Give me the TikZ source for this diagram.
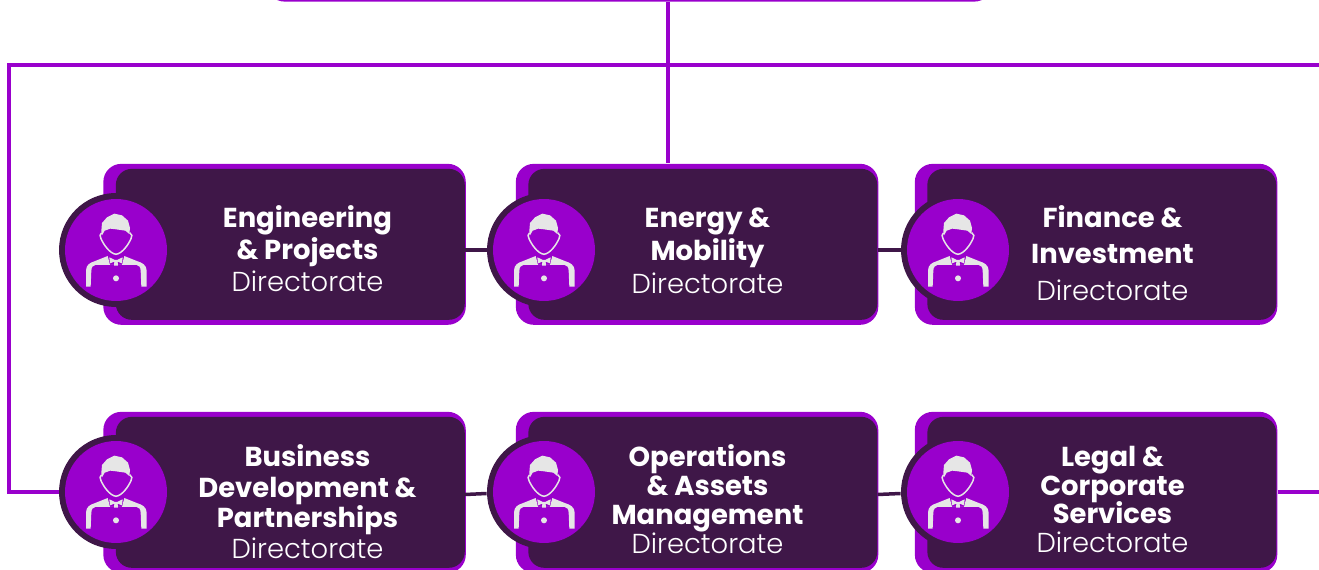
\documentclass[tikz,border=0pt]{standalone}
\usepackage{fontspec}
\setmainfont{Poppins}
\newfontfamily\titlefont{Poppins Bold}
\newfontfamily\unitfont{Poppins Light}
\usetikzlibrary{positioning}
\definecolor{dirpurple}{RGB}{153, 0, 204}
\definecolor{dirdark}{RGB}{63, 23, 72}
\definecolor{dirgrey}{RGB}{230, 230, 230}
\tikzset{
  cardback/.style={fill=dirpurple, rounded corners=0.36cm, minimum width=7.25cm, minimum height=3.22cm, inner sep=0pt},
  cardface/.style={fill=dirdark, rounded corners=0.32cm, minimum width=6.98cm, minimum height=3.02cm, inner sep=0pt},
  ringdark/.style={circle, fill=dirdark, minimum size=2.28cm, inner sep=0pt},
  ringfill/.style={circle, fill=dirpurple, minimum size=2.04cm, inner sep=0pt},
  boardbox/.style={fill=dirpurple, rounded corners=0.4cm, minimum width=14.58cm, minimum height=1cm, inner sep=0pt},
  bus/.style={dirpurple, line width=0.08cm},
  link/.style={dirdark, line width=0.07cm},
  titletext/.style={text=white, font=\titlefont\fontsize{15.6}{16}\selectfont, anchor=base, inner sep=0pt},
  unittext/.style={text=white, font=\unitfont\fontsize{15.6}{16}\selectfont, anchor=base, inner sep=0pt},
  staff/.pic={
    \begin{scope}[scale=1/3]
    % hair
    \fill[dirgrey] (-44,-58) -- (-42,-81) -- (-27,-98) -- (-5,-109) -- (18,-104) -- (36,-88) -- (42,-66) -- (40,-48) -- (28,-58) -- (0,-62) -- (-17,-64) -- (-34,-58) -- (-42,-44) -- cycle;
    % face outline with ears
    \draw[dirgrey, line width=0.03cm] (-43,-52) .. controls (-49,-48) and (-49,-40) .. (-45,-34) .. controls (-38,-18) and (-20,10) .. (0,13) .. controls (20,10) and (38,-18) .. (45,-34) .. controls (49,-40) and (49,-48) .. (41,-52);
    % body with laptop cut out
    \fill[dirgrey] (-90,110) -- (-90,62) .. controls (-90,45) and (-78,38) .. (-65,34) -- (-25,18) -- (-18,45) -- (18,45) -- (25,18) -- (65,34) .. controls (78,38) and (92,45) .. (92,62) -- (92,110) -- (76,110) -- (74,62) .. controls (74,52) and (68,45) .. (62,45) -- (-62,45) .. controls (-68,45) and (-74,52) .. (-74,62) -- (-76,110) -- cycle;
    % bow tie
    \fill[dirgrey] (-20,22) -- (-3,30) -- (3,30) -- (20,22) -- (18,40) -- (5,35) -- (6,47) -- (-6,47) -- (-5,35) -- (-18,40) -- cycle;
    \fill[dirgrey] (0,85) circle (9);
    \end{scope}
  }
}
\begin{document}
\begin{tikzpicture}[x=0.02cm, y=-0.02cm]
\useasboundingbox (0,0) rectangle (1319,570);
\clip (0,0) rectangle (1319,570);
% top box, cut by the page
\node[boardbox, anchor=south] (board) at (629.5,2) {};
% cards
\foreach \cardid/\x/\y/\cx/\cy in {1/103/163.5/116/250, 2/515.5/163.5/544/250, 3/914.5/163.5/958/250, 4/103/411.5/116/492, 5/515.5/411.5/544/492, 6/914.5/411.5/958/492} {
  \node[cardback, anchor=north west] (back\cardid) at (\x,\y) {};
  \node[cardface, anchor=east] (card\cardid) at ([xshift=-0.02cm]back\cardid.east) {};
  \node[ringdark] (ring\cardid) at (\cx,\cy) {};
  \node[ringfill] (disc\cardid) at (\cx,\cy) {};
  \pic at (disc\cardid) {staff};
}
% titles
\foreach \lineid/\cx/\base/\txt in {a/307.5/227.5/Engineering, b/307.5/259.5/\& Projects, c/707.5/227.5/Energy \&, d/707.5/260.5/Mobility, e/1112.5/227.5/Finance \&, f/1112.5/263.5/Investment, g/307.5/466.5/Business, h/307.5/497.5/Development \&, i/307.5/527.5/Partnerships, j/707.5/466.5/Operations, k/707.5/495.5/\& Assets, l/707.5/524.5/Management, m/1112.5/466.5/Legal \&, n/1112.5/495.5/Corporate, o/1112.5/523.5/Services} {
  \node[titletext] (title\lineid) at (\cx,\base) {\txt};
}
\foreach \lineid/\cx/\base in {1/307.5/291.5, 2/707.5/293.5, 3/1112.5/300.5, 4/307.5/558.5, 5/707.5/553.5, 6/1112.5/552.5} {
  \node[unittext] (unit\lineid) at (\cx,\base) {Directorate};
}
% purple lines
\coordinate (tee) at (668,65);
\coordinate (busleft) at (9,65);
\coordinate (busright) at (1319,65);
\draw[bus] (tee |- board.south) -- (tee |- back2.north);
\draw[bus] (busright) -- (busleft) -- (busleft |- ring4.west) -- (ring4.west);
\draw[bus] (back6.east) -- (busright |- back6.east);
% dark links
\draw[link] (card1.east |- ring2.west) -- (ring2.west);
\draw[link] (card2.east |- ring3.west) -- (ring3.west);
\draw[link] ([yshift=-0.05cm]card4.east |- ring5.west) -- ([yshift=-0.03cm]ring5.west);
\draw[link] ([yshift=-0.05cm]card5.east |- ring6.west) -- ([yshift=-0.03cm]ring6.west);
\end{tikzpicture}
\end{document}
